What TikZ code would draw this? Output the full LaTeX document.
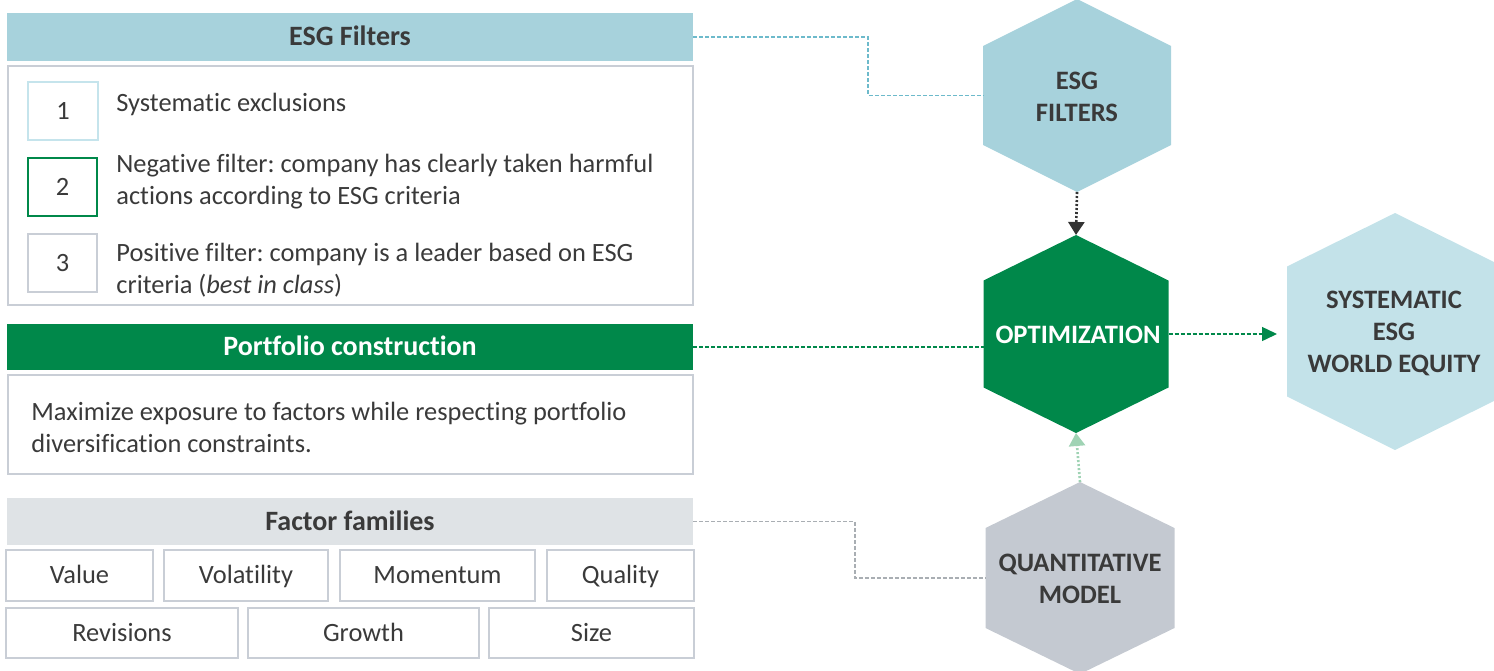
\documentclass[tikz,border=0pt]{standalone}
\usepackage{fontspec}
\setmainfont{Carlito}[Ligatures={NoCommon}]
\frenchspacing
\usetikzlibrary{fit,arrows.meta}
\definecolor{esgblue}{HTML}{A7D2DC}
\definecolor{sysblue}{HTML}{C3E2E9}
\definecolor{dgreen}{HTML}{00884A}
\definecolor{greyhdr}{HTML}{DFE3E6}
\definecolor{quantgrey}{HTML}{C4C9D1}
\definecolor{bordergrey}{HTML}{C9CED6}
\definecolor{lightbord}{HTML}{C5E4EC}
\definecolor{txt}{HTML}{3A3A3A}
\definecolor{esgline}{HTML}{6DBACB}
\definecolor{factline}{HTML}{A9AEB3}
\definecolor{darkarrow}{HTML}{333333}
\definecolor{lgarrow}{HTML}{9FD3B4}
\newcommand\myhex[7]{% name, cx, cy, half width, half side, half height, fill
  \coordinate (#1-c) at (#2,#3);
  \coordinate (#1-t) at (#2,{#3-#6});
  \coordinate (#1-b) at (#2,{#3+#6});
  \coordinate (#1-w) at ({#2-#4},#3);
  \coordinate (#1-e) at ({#2+#4},#3);
  \fill[#7] (#1-t) -- ({#2+#4},{#3-#5}) -- ({#2+#4},{#3+#5}) -- (#1-b)
     -- ({#2-#4},{#3+#5}) -- ({#2-#4},{#3-#5}) -- cycle;
}
\tikzset{
  bar/.style={inner sep=0pt},
  bartext/.style={inner sep=0pt, text height=8.9pt, text depth=0pt, font=\fontsize{14}{17}\selectfont\bfseries},
  frame/.style={draw=bordergrey, line width=1pt, inner sep=0pt},
  numbox/.style={line width=1pt, inner sep=0pt},
  celltext/.style={inner sep=0pt, text height=8.4pt, text depth=0pt, text=txt, font=\fontsize{13.2}{16}\selectfont},
  body/.style={anchor=west, align=left, inner sep=0pt, text=txt, font=\fontsize{13.2}{16}\selectfont},
  factor/.style={draw=bordergrey, line width=0.7pt, inner sep=0pt},
  hextext/.style={align=center, inner sep=0pt, font=\fontsize{13.3}{16}\selectfont\bfseries},
  conn/.style={line width=0.7pt, dash pattern=on 2pt off 1pt},
  dotarrow/.style={line width=1.3pt, dash pattern=on 1pt off 1pt, -{Triangle[width=8pt,length=6.5pt]}}
}
\begin{document}
\begin{tikzpicture}[x=0.5pt,y=-0.5pt]
\useasboundingbox (0,0) rectangle (1494,670);
% ---------- ESG Filters ----------
\node[bar, fill=esgblue, fit={(7,13)(693,61)}] (esghdr) {};
\node[bartext, text=txt] (esghdrT) at (esghdr.center) {ESG Filters};
\node[frame, fit={(8,66)(693,305)}] (esgbox) {};
\node[numbox, draw=lightbord, fit={(28,82)(98,140)}] (n1) {};
\node[numbox, draw=dgreen, fit={(28,158)(97,216)}] (n2) {};
\node[numbox, draw=bordergrey, fit={(28,234)(97,292)}] (n3) {};
\node[celltext] (n1T) at (n1.center) {1};
\node[celltext] (n2T) at (n2.center) {2};
\node[celltext] (n3T) at (n3.center) {3};
\node[body] (t1) at (116,104) {Systematic exclusions};
\node[body] (t2) at (116,182) {Negative filter: company has clearly taken harmful\\actions according to ESG criteria};
\node[body] (t3) at (116,270) {Positive filter: company is a leader based on ESG\\criteria (\textit{best in class})};
% ---------- Portfolio construction ----------
\node[bar, fill=dgreen, fit={(7,324)(693,370)}] (pchdr) {};
\node[bartext, text=white] (pchdrT) at (pchdr.center) {Portfolio construction};
\node[frame, fit={(8,375)(693,474)}] (pcbox) {};
\node[body] (pct) at (31,427) {Maximize exposure to factors while respecting portfolio\\diversification constraints.};
% ---------- Factor families ----------
\node[bar, fill=greyhdr, fit={(7,498)(693,545)}] (ffhdr) {};
\node[bartext, text=txt] (ffhdrT) at (ffhdr.center) {Factor families};
\node[factor, fit={(6,550)(153,601)}] (fv) {};
\node[factor, fit={(164,550)(328,601)}] (fvol) {};
\node[factor, fit={(340,550)(535,601)}] (fm) {};
\node[factor, fit={(547,550)(694,601)}] (fq) {};
\node[factor, fit={(6,608)(238,658)}] (fr) {};
\node[factor, fit={(248,608)(479,658)}] (fg) {};
\node[factor, fit={(489,608)(694,658)}] (fs) {};
\node[celltext] (fvT) at (fv.center) {Value};
\node[celltext] (fvolT) at (fvol.center) {Volatility};
\node[celltext] (fmT) at (fm.center) {Momentum};
\node[celltext] (fqT) at (fq.center) {Quality};
\node[celltext] (frT) at (fr.center) {Revisions};
\node[celltext] (fgT) at (fg.center) {Growth};
\node[celltext] (fsT) at (fs.center) {Size};
% ---------- Hexagons ----------
\myhex{esgH}{1077}{95.5}{94}{49.5}{96.5}{esgblue}
\myhex{optH}{1076}{334}{92.5}{53.5}{99}{dgreen}
\myhex{sysH}{1395}{331.5}{108}{65}{118.5}{sysblue}
\myhex{qH}{1080}{578}{94.5}{50}{96}{quantgrey}
\node[hextext, text=txt] (esgL) at (1077,97) {ESG\\FILTERS};
\node[hextext, text=white] (optL) at (1078,335) {OPTIMIZATION};
\node[hextext, text=txt] (sysL) at (1394,333) {SYSTEMATIC\\ESG\\WORLD EQUITY};
\node[hextext, text=txt] (qL) at (1080,579) {QUANTITATIVE\\MODEL};
% ---------- Connectors ----------
\coordinate (b1) at (868,0);
\draw[conn, draw=esgline] (esghdr.east) -- (esghdr.east -| b1) -- (b1 |- esgH-w) -- (esgH-w);
\draw[conn, draw=dgreen] (pchdr.east) -- (pchdr.east -| optH-w);
\coordinate (b2) at (855,0);
\draw[conn, draw=factline] (ffhdr.east) -- (ffhdr.east -| b2) -- (b2 |- qH-w) -- (qH-w);
\draw[conn, draw=dgreen, shorten >=5pt, -{Triangle[width=7pt,length=7.5pt]}] (optH-e) -- (optH-e -| sysH-w);
\draw[dotarrow, draw=darkarrow] (esgH-b) -- (optH-t);
\draw[dotarrow, draw=lgarrow] (qH-t) -- (optH-b);
\end{tikzpicture}
\end{document}
